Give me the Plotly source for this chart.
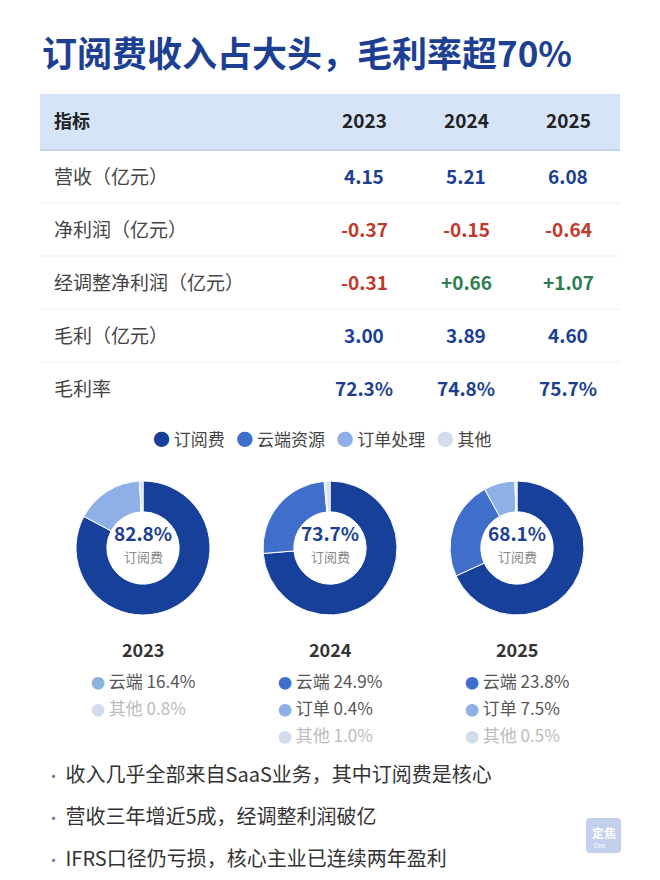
import plotly.graph_objects as go

W, H = 660, 880

title = "订阅费收入占大头，毛利率超70%"

# table data
years = ["2023", "2024", "2025"]
metrics = ["营收（亿元）", "净利润（亿元）", "经调整净利润（亿元）", "毛利（亿元）", "毛利率"]
values = [
    ["4.15", "5.21", "6.08"],
    ["-0.37", "-0.15", "-0.64"],
    ["-0.31", "+0.66", "+1.07"],
    ["3.00", "3.89", "4.60"],
    ["72.3%", "74.8%", "75.7%"],
]

# revenue mix (%)
segments = ["订阅费", "云端资源", "订单处理", "其他"]
short_names = ["订阅费", "云端", "订单", "其他"]
mix = {
    "2023": [82.8, 16.4, 0.0, 0.8],
    "2024": [73.7, 24.9, 0.4, 1.0],
    "2025": [68.1, 23.8, 7.5, 0.5],
}

bullets = [
    "收入几乎全部来自SaaS业务，其中订阅费是核心",
    "营收三年增近5成，经调整利润破亿",
    "IFRS口径仍亏损，核心主业已连续两年盈利",
]

FONT = "Noto Sans CJK SC"
DARK = "#1c3f93"
SEG_COLORS = ["#17409a", "#3f6fca", "#8eb0e6", "#d3dcea"]
# 2023's cloud slice is drawn in the lighter tone in the source
PIE_COLORS = {
    "2023": ["#17409a", "#8eb0e6", "#8eb0e6", "#d3dcea"],
    "2024": SEG_COLORS,
    "2025": SEG_COLORS,
}
DOT_COLORS = {
    "2023": ["#17409a", "#8bb4dc", "#8eb0e6", "#d3dcea"],
    "2024": SEG_COLORS,
    "2025": SEG_COLORS,
}


def py(y):
    return 1 - y / H


def px(x):
    return x / W


def val_color(v):
    if v.startswith("-"):
        return "#c0392b"
    if v.startswith("+"):
        return "#2e7d4f"
    return DARK


fig = go.Figure()
shapes = []
annotations = []

# ---- table ----
tab_l, tab_r = 40, 620
tab_top, head_h, row_h = 94, 56, 53
col_x = [364, 466, 568]

shapes.append(dict(type="rect", x0=px(tab_l), x1=px(tab_r), y0=py(tab_top + head_h), y1=py(tab_top),
                   fillcolor="#d6e4f7", line=dict(width=0), layer="below"))
shapes.append(dict(type="line", x0=px(tab_l), x1=px(tab_r), y0=py(tab_top + head_h), y1=py(tab_top + head_h),
                   line=dict(color="#c3d3ec", width=2)))

head_y = tab_top + head_h / 2 - 2
annotations.append(dict(x=px(52), y=py(head_y), xanchor="left", text="<b>指标</b>",
                        font=dict(family=FONT, size=18, color="#222222")))
for yr, cx in zip(years, col_x):
    annotations.append(dict(x=px(cx), y=py(head_y), text=f"<b>{yr}</b>",
                            font=dict(family=FONT, size=19, color="#222222")))

for k, (m, row) in enumerate(zip(metrics, values)):
    ry = tab_top + head_h + row_h * k + row_h / 2 - 1
    annotations.append(dict(x=px(52), y=py(ry), xanchor="left", text=m,
                            font=dict(family=FONT, size=19, color="#444444")))
    for v, cx in zip(row, col_x):
        annotations.append(dict(x=px(cx), y=py(ry), text=f"<b>{v}</b>",
                                font=dict(family=FONT, size=19, color=val_color(v))))
    if k > 0:
        yy = tab_top + head_h + row_h * k
        shapes.append(dict(type="line", x0=px(tab_l), x1=px(tab_r), y0=py(yy), y1=py(yy),
                           line=dict(color="#eeeeee", width=1)))

# ---- legend ----
legend_txt = "   ".join(f"<span style='color:{c}'>●</span> {s}" for s, c in zip(segments, SEG_COLORS))
annotations.append(dict(x=px(322), y=py(438), text=legend_txt,
                        font=dict(family=FONT, size=17, color="#444444")))

# ---- donuts ----
centers = [143, 330, 517]
cy, r = 548, 67
for yr, cx in zip(years, centers):
    fig.add_trace(go.Pie(
        labels=segments, values=mix[yr], hole=0.54, sort=False,
        direction="clockwise", rotation=0, textinfo="none", hoverinfo="label+percent",
        marker=dict(colors=PIE_COLORS[yr], line=dict(color="white", width=1)),
        domain=dict(x=[px(cx - r), px(cx + r)], y=[py(cy + r), py(cy - r)]),
        showlegend=False,
    ))
    annotations.append(dict(x=px(cx), y=py(cy - 16), text=f"<b>{mix[yr][0]:.1f}%</b>",
                            font=dict(family=FONT, size=19, color=DARK)))
    annotations.append(dict(x=px(cx), y=py(cy + 8), text=segments[0],
                            font=dict(family=FONT, size=13, color="#888888")))
    annotations.append(dict(x=px(cx), y=py(649), text=f"<b>{yr}</b>",
                            font=dict(family=FONT, size=18, color="#333333")))
    # small breakdown under each donut
    line_y = 680
    for i in range(1, 4):
        v = mix[yr][i]
        if v == 0:
            continue
        txt_col = "#bbbbbb" if i == 3 else "#555555"
        annotations.append(dict(
            x=px(cx - 54), y=py(line_y), xanchor="left",
            text=f"<span style='color:{DOT_COLORS[yr][i]};font-size:14px'>●</span> {short_names[i]} {v:.1f}%",
            font=dict(family=FONT, size=17, color=txt_col)))
        line_y += 27

# ---- title ----
annotations.append(dict(x=px(40), y=py(51), xanchor="left", text=f"<b>{title}</b>",
                        font=dict(family=FONT, size=35, color=DARK)))

# ---- bullets ----
for i, b in enumerate(bullets):
    yy = 773 + 42 * i
    annotations.append(dict(x=px(44), y=py(yy), xanchor="left",
                            text=f"<span style='color:#6a7fa8;font-size:15px'>•</span> {b}",
                            font=dict(family=FONT, size=20, color="#333333")))

# watermark badge
shapes.append(dict(type="path",
                   path=f"M {px(590)},{py(818)} L {px(617)},{py(818)} Q {px(621)},{py(818)} {px(621)},{py(822)} "
                        f"L {px(621)},{py(849)} Q {px(621)},{py(853)} {px(617)},{py(853)} "
                        f"L {px(590)},{py(853)} Q {px(586)},{py(853)} {px(586)},{py(849)} "
                        f"L {px(586)},{py(822)} Q {px(586)},{py(818)} {px(590)},{py(818)} Z",
                   fillcolor="#b8c8e8", line=dict(width=0), opacity=0.85))
annotations.append(dict(x=px(603.5), y=py(832), text="<b>定焦</b>",
                        font=dict(family=FONT, size=12, color="white")))
annotations.append(dict(x=px(600), y=py(845), text="One",
                        font=dict(family=FONT, size=6, color="white")))

for s in shapes:
    s["xref"] = "paper"
    s["yref"] = "paper"
for a in annotations:
    a["xref"] = "paper"
    a["yref"] = "paper"
    a["showarrow"] = False
    a.setdefault("xanchor", "center")
    a["yanchor"] = "middle"

fig.update_layout(
    width=W, height=H, margin=dict(l=0, r=0, t=0, b=0),
    paper_bgcolor="white", plot_bgcolor="white",
    xaxis=dict(visible=False), yaxis=dict(visible=False),
    showlegend=False,
    shapes=shapes, annotations=annotations,
)

fig.write_html("out.html", config={"displayModeBar": False},
               post_script="document.body.style.margin='0';")
